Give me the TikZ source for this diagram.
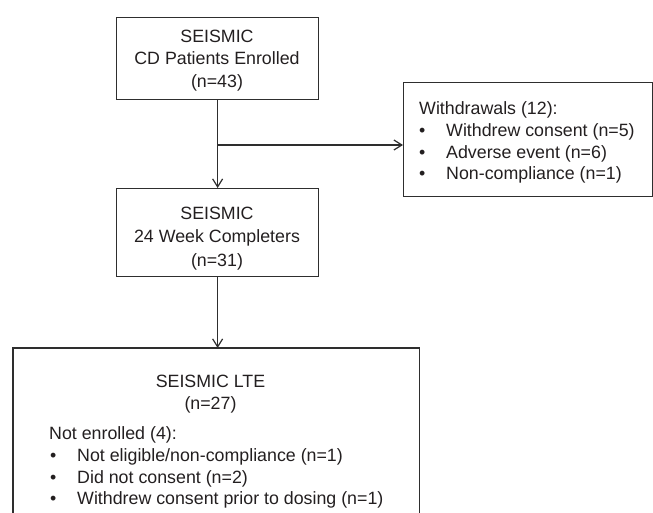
\documentclass[tikz,border=0pt]{standalone}
\usepackage{fontspec}
\setmainfont{Liberation Sans}
\usetikzlibrary{arrows.meta}
\definecolor{ink}{HTML}{231F20}
\definecolor{rule}{HTML}{2E2E2E}
\begin{document}
\begin{tikzpicture}[x=1pt,y=-1pt,
  box/.style={draw=rule, line width=1.25pt, inner sep=0pt, anchor=north west},
  txt/.style={text=ink, font=\fontsize{17.8}{22}\selectfont, inner sep=0pt},
  ctxt/.style={txt, anchor=base},
  ltxt/.style={txt, anchor=base west},
  arr/.style={draw=rule, line width=1.25pt, -{Straight Barb[length=8pt,width=10pt,line width=1.2pt]}}]
\useasboundingbox (0,0) rectangle (653,513);

% boxes
\node[box, minimum width=202pt, minimum height=82pt] (b1) at (116,17) {};
\node[box, minimum width=202pt, minimum height=88pt] (b2) at (116,188) {};
\node[box, minimum width=249pt, minimum height=114pt] (wd) at (403,82) {};
\node[inner sep=0pt, anchor=north west, minimum width=406pt, minimum height=165pt] (lte) at (13,348) {};
\draw[draw=rule, line width=1.25pt] (lte.south west) -- (lte.north west) -- (lte.north east) -- (lte.south east);

% box 1 text
\node[ctxt] (b1a) at (217,42.4) {SEISMIC};
\node[ctxt] (b1b) at (217,64.9) {CD Patients Enrolled};
\node[ctxt] (b1c) at (217,87.4) {(n=43)};

% box 2 text
\node[ctxt] (b2a) at (217,219.7) {SEISMIC};
\node[ctxt] (b2b) at (217,243.0) {24 Week Completers};
\node[ctxt] (b2c) at (217,266.3) {(n=31)};

% withdrawals text
\node[ltxt] (wda) at (419,114.4) {Withdrawals (12):};
\node[ltxt] (wdb1) at (419,136.4) {•};
\node[ltxt] (wdb) at (446,136.4) {Withdrew consent (n=5)};
\node[ltxt] (wdc1) at (419,158.1) {•};
\node[ltxt] (wdc) at (446,158.1) {Adverse event (n=6)};
\node[ltxt] (wdd1) at (419,179.7) {•};
\node[ltxt] (wdd) at (446,179.7) {Non-compliance (n=1)};

% LTE text
\node[ctxt] (ltea) at (210.5,387.4) {SEISMIC LTE};
\node[ctxt] (lteb) at (210.5,409.4) {(n=27)};
\node[ltxt] (ltec) at (49,439.4) {Not enrolled (4):};
\node[ltxt] (lted1) at (50,461.4) {•};
\node[ltxt] (lted) at (77,461.4) {Not eligible/non-compliance (n=1)};
\node[ltxt] (ltee1) at (50,483.1) {•};
\node[ltxt] (ltee) at (77,483.1) {Did not consent (n=2)};
\node[ltxt] (ltef1) at (50,504.6) {•};
\node[ltxt] (ltef) at (77,504.6) {Withdrew consent prior to dosing (n=1)};

% connectors
\coordinate (br) at (217,145);
\draw[arr] (b1.south) -- (b2.north);
\draw[arr] (br) -- (br -| wd.west);
\draw[arr] (b2.south) -- (b2.south |- lte.north);
\end{tikzpicture}
\end{document}
